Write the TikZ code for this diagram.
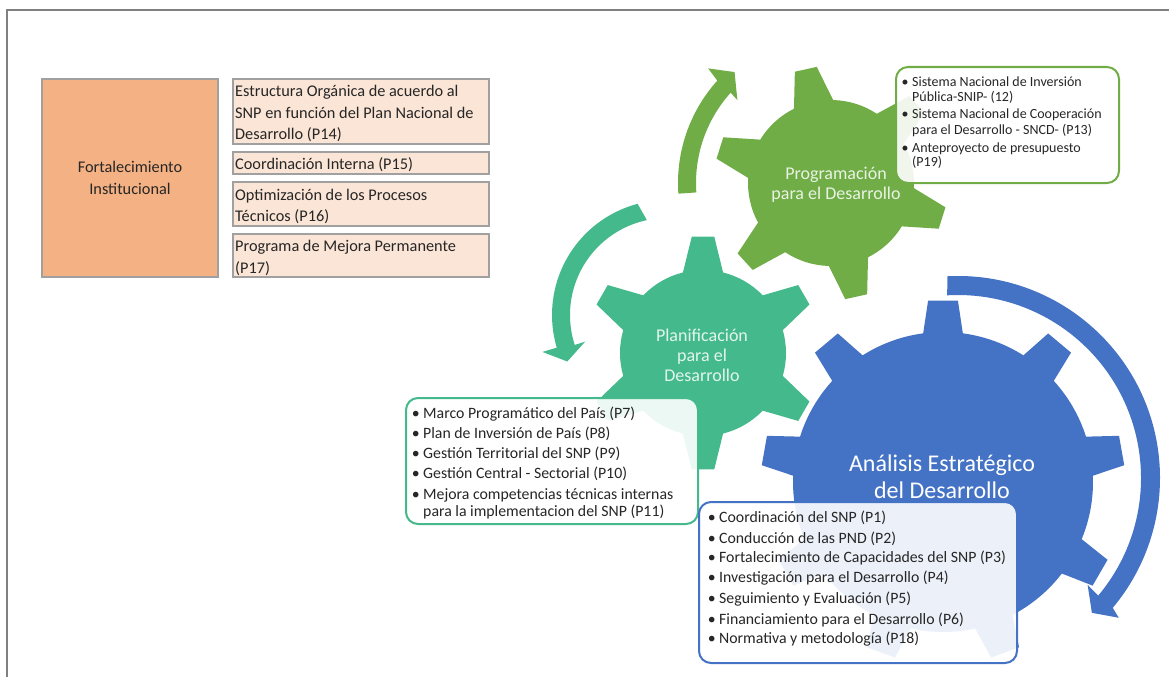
\documentclass[tikz,border=0pt]{standalone}
\usepackage{fontspec}
\setmainfont{Carlito}
\definecolor{greenc}{HTML}{70AD47}
\definecolor{tealc}{HTML}{44BA8C}
\definecolor{bluec}{HTML}{4472C4}
\definecolor{orangefill}{HTML}{F4B183}
\definecolor{peachfill}{HTML}{FBE5D6}
\definecolor{boxgray}{HTML}{A0A0A0}
\definecolor{framegray}{HTML}{808080}
\newcommand\bul{\llap{\textbullet\hspace{3.5pt}}}
\tikzset{
  sqbox/.style={draw=boxgray, line width=1.2pt, anchor=north west, inner sep=0pt, outer sep=0pt},
  rbox/.style={line width=2pt, rounded corners=12pt, fill=white, fill opacity=0.9, anchor=north west, inner sep=0pt},
  ltxt/.style={anchor=base west, inner sep=0pt, text=black!85, font=\fontsize{16.3}{19}\selectfont},
  gtxt/.style={anchor=base west, inner sep=0pt, text=black!85, font=\fontsize{14}{16}\selectfont},
  ttxt/.style={anchor=base west, inner sep=0pt, text=black!85, font=\fontsize{15.8}{18}\selectfont},
  gearlbl/.style={align=center, inner sep=0pt},
}
\begin{document}
\begin{tikzpicture}[x=1pt,y=1pt]
\useasboundingbox (0,0) rectangle (1169,-677);
% frame
\draw[framegray, line width=2pt] (7,-677) -- (7,-10) -- (1169,-10);

% ---------- left block ----------
\node[sqbox, fill=orangefill, minimum width=176pt, minimum height=198pt] (fi) at (42,-79) {};
\node[ltxt, anchor=base, align=center] (fi1) at (130,-172) {Fortalecimiento};
\node[ltxt, anchor=base, align=center] (fi2) at (130,-194) {Institucional};

\node[sqbox, fill=peachfill, minimum width=256pt, minimum height=65pt] (b1) at (233,-79) {};
\node[sqbox, fill=peachfill, minimum width=256pt, minimum height=22pt] (b2) at (233,-152) {};
\node[sqbox, fill=peachfill, minimum width=256pt, minimum height=44pt] (b3) at (233,-182) {};
\node[sqbox, fill=peachfill, minimum width=256pt, minimum height=43pt] (b4) at (233,-234) {};
\node[ltxt] (b1a) at (235,-96) {Estructura Orgánica de acuerdo al};
\node[ltxt] (b1b) at (235,-118) {SNP en función del Plan Nacional de};
\node[ltxt] (b1c) at (235,-139) {Desarrollo (P14)};
\node[ltxt] (b2a) at (235,-169) {Coordinación Interna (P15)};
\node[ltxt] (b3a) at (235,-200) {Optimización de los Procesos};
\node[ltxt] (b3b) at (235,-221) {Técnicos (P16)};
\node[ltxt] (b4a) at (235,-251) {Programa de Mejora Permanente};
\node[ltxt] (b4b) at (235,-273) {(P17)};

% ---------- gears ----------
% green gear
\begin{scope}[shift={(831,-183)}]
\fill[greenc] (88.5:83) \foreach \k in {0,...,5}{ -- ({102.5+60*\k-5.5}:117) -- ({102.5+60*\k+5.5}:117) -- ({102.5+60*\k+14}:83) arc[start angle={102.5+60*\k+14}, end angle={162.5+60*\k-14}, radius=83]} -- cycle;
\fill[greenc] (184:153) arc[start angle=184, end angle=138, radius=153] -- (137:168) -- (131:147) -- (138.5:125) -- (138:135) arc[start angle=138, end angle=184, radius=135] -- cycle;
\end{scope}
% teal gear
\begin{scope}[shift={(703,-353)}]
\fill[tealc] (76:83) \foreach \k in {0,...,5}{ -- ({90+60*\k-5.5}:117) -- ({90+60*\k+5.5}:117) -- ({90+60*\k+14}:83) arc[start angle={90+60*\k+14}, end angle={150+60*\k-14}, radius=83]} -- cycle;
\end{scope}
\begin{scope}[shift={(667,-315)}]
\fill[tealc] (104.8:115) arc[start angle=104.8, end angle=196.5, radius=115] -- (196.5:130) -- (205:110) -- (198:86) -- (198:97) arc[start angle=198, end angle=102, radius=97] -- cycle;
\end{scope}
% blue gear (9 teeth)
\begin{scope}[shift={(943,-482)}]
\fill[bluec] (82.4:150) \foreach \k in {0,...,8}{ -- ({90+40*\k-4.7}:182) -- ({90+40*\k+4.7}:182) -- ({90+40*\k+7.6}:150) arc[start angle={90+40*\k+7.6}, end angle={130+40*\k-7.6}, radius=150]} -- cycle;
\end{scope}
\begin{scope}[shift={(958,-478)}]
\fill[bluec] (93:202) arc[start angle=93, end angle=-40, radius=202] -- (-41:213) -- (-45.2:190) -- (-39.5:168) -- (-40:183) arc[start angle=-40, end angle=93.4, radius=183] -- cycle;
\end{scope}

% gear labels
\node[gearlbl, text=white, text opacity=0.85, font=\fontsize{18}{20}\selectfont] (lprog) at (836,-185) {Programación\\para el Desarrollo};
\node[gearlbl, text=white, text opacity=0.85, font=\fontsize{18}{20}\selectfont] (lplan) at (702,-355) {Planificación\\para el\\Desarrollo};
\node[gearlbl, text=white, font=\fontsize{24}{27}\selectfont] (lana) at (942,-477) {Análisis Estratégico\\del Desarrollo};

% ---------- green list ----------
\node[rbox, draw=greenc, minimum width=223pt, minimum height=116pt] (gbox) at (895,-66) {};
\node[gtxt] (g1) at (912,-86) {\bul Sistema Nacional de Inversión};
\node[gtxt] (g2) at (912,-101) {Pública-SNIP- (12)};
\node[gtxt] (g3) at (912,-118) {\bul Sistema Nacional de Cooperación};
\node[gtxt] (g4) at (912,-134) {para el Desarrollo - SNCD- (P13)};
\node[gtxt] (g5) at (912,-152) {\bul Anteproyecto de presupuesto};
\node[gtxt] (g6) at (912,-166) {(P19)};

% ---------- teal list ----------
\node[rbox, draw=tealc, minimum width=292pt, minimum height=126pt] (tbox) at (405,-397) {};
\node[ttxt] (t1) at (423,-418) {\bul Marco Programático del País (P7)};
\node[ttxt] (t2) at (423,-438) {\bul Plan de Inversión de País (P8)};
\node[ttxt] (t3) at (423,-458) {\bul Gestión Territorial del SNP (P9)};
\node[ttxt] (t4) at (423,-478) {\bul Gestión Central - Sectorial (P10)};
\node[ttxt] (t5) at (423,-499) {\bul Mejora competencias técnicas internas};
\node[ttxt] (t6) at (423,-516) {para la implementacion del SNP (P11)};

% ---------- blue list ----------
\node[rbox, draw=bluec, minimum width=318pt, minimum height=161pt] (abox) at (698,-501) {};
\node[ttxt] (a1) at (719,-522) {\bul Coordinación del SNP (P1)};
\node[ttxt] (a2) at (719,-543) {\bul Conducción de las PND (P2)};
\node[ttxt] (a3) at (719,-562) {\bul Fortalecimiento de Capacidades del SNP (P3)};
\node[ttxt] (a4) at (719,-582) {\bul Investigación para el Desarrollo (P4)};
\node[ttxt] (a5) at (719,-603) {\bul Seguimiento y Evaluación (P5)};
\node[ttxt] (a6) at (719,-624) {\bul Financiamiento para el Desarrollo (P6)};
\node[ttxt] (a7) at (719,-643) {\bul Normativa y metodología (P18)};
\end{tikzpicture}
\end{document}
